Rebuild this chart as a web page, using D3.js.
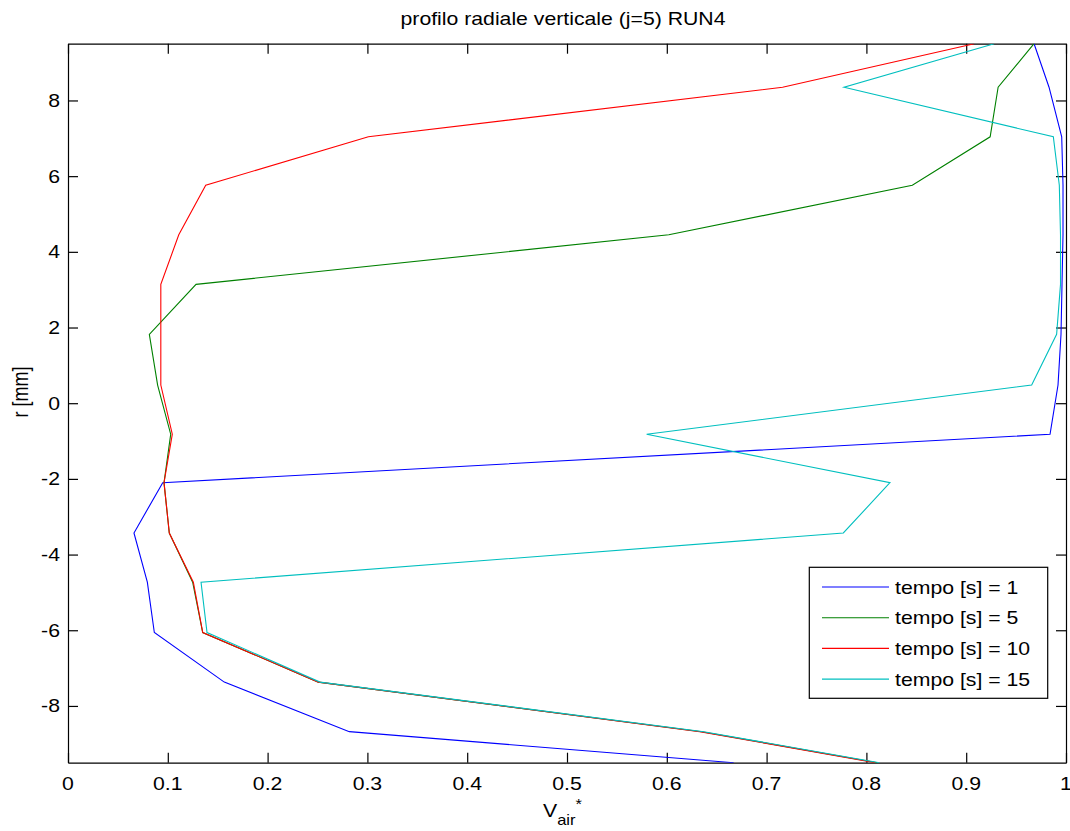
<!DOCTYPE html>
<html>
<head>
<meta charset="utf-8">
<script src="https://cdn.jsdelivr.net/npm/d3@7"></script>
<style>
  html, body { margin: 0; padding: 0; background: #fff; }
  svg { display: block; font-family: "Liberation Sans", Arial, sans-serif; }
  text { fill: #000; }
</style>
</head>
<body>
<svg id="chart" width="1070" height="831"></svg>
<script>
// ---- data ----
const radii = [9.5, 8.35, 7.04, 5.76, 4.45, 3.14, 1.82, 0.48, -0.82, -2.10, -3.43, -4.73, -6.06, -7.37, -8.68, -9.5];
const seriesLabels = ["tempo [s] = 1", "tempo [s] = 5", "tempo [s] = 10", "tempo [s] = 15"];
const seriesColors = ["#0000ff", "#008000", "#ff0000", "#00bfbf"];
const vT1  = [0.968, 0.983, 0.9957, 0.997, 0.997, 0.996, 0.995, 0.992, 0.984, 0.0949, 0.0661, 0.0795, 0.0865, 0.1566, 0.2819, 0.667];
const vT5  = [0.968, 0.932, 0.924, 0.846, 0.602, 0.1283, 0.0815, 0.0898, 0.1029, 0.0962, 0.1015, 0.1249, 0.135, 0.2508, 0.635, 0.811];
const vT10 = [0.908, 0.716, 0.301, 0.138, 0.111, 0.093, 0.093, 0.093, 0.1045, 0.0962, 0.1015, 0.1256, 0.135, 0.2508, 0.633, 0.809];
const vT15 = [0.928, 0.7776, 0.9873, 0.9933, 0.9945, 0.9945, 0.9906, 0.9656, 0.5798, 0.8236, 0.7769, 0.1333, 0.1393, 0.2525, 0.637, 0.813];
const xTicks = [0, 0.1, 0.2, 0.3, 0.4, 0.5, 0.6, 0.7, 0.8, 0.9, 1];
const yTicks = [-8, -6, -4, -2, 0, 2, 4, 6, 8];
const titleText = "profilo radiale verticale (j=5) RUN4";

// ---- layout ----
const L = 68, R = 1066, T = 43.7, B = 762.7;
const SX = 1.18; // horizontal stretch of the reference text
const FS = 18;

const svg = d3.select("#chart");
const x = d3.scaleLinear().domain([0, 1]).range([L, R]);
const y = d3.scaleLinear().domain([-9.5, 9.5]).range([B, T]);

function label(parent, px, py, txt, anchor, size, rot) {
  return parent.append("text")
    .attr("transform", `translate(${px},${py}) scale(${SX},1)` + (rot ? ` rotate(${rot})` : ""))
    .attr("text-anchor", anchor)
    .style("font-size", size + "px")
    .text(txt);
}

svg.append("rect").attr("x", L).attr("y", T).attr("width", R - L).attr("height", B - T).attr("fill", "#fff");

svg.append("defs").append("clipPath").attr("id", "clip")
  .append("rect").attr("x", L).attr("y", T).attr("width", R - L).attr("height", B - T);

// ---- axes (ticks inward, box on) ----
function styleAxis(g) {
  g.selectAll("path.domain").attr("stroke", "#000").attr("stroke-width", 1.2);
  g.selectAll(".tick line").attr("stroke", "#000").attr("stroke-width", 1.2);
  g.selectAll(".tick text").remove();
}
svg.append("g").attr("transform", `translate(0,${B})`)
  .call(d3.axisBottom(x).tickValues(xTicks).tickSizeInner(-10).tickSizeOuter(0).tickFormat(""))
  .call(styleAxis);
svg.append("g").attr("transform", `translate(0,${T})`)
  .call(d3.axisTop(x).tickValues(xTicks).tickSizeInner(-10).tickSizeOuter(0).tickFormat(""))
  .call(styleAxis);
svg.append("g").attr("transform", `translate(${L},0)`)
  .call(d3.axisLeft(y).tickValues(yTicks).tickSizeInner(-10).tickSizeOuter(0).tickFormat(""))
  .call(styleAxis);
svg.append("g").attr("transform", `translate(${R},0)`)
  .call(d3.axisRight(y).tickValues(yTicks).tickSizeInner(-10).tickSizeOuter(0).tickFormat(""))
  .call(styleAxis);

// tick labels
const fmtX = d => d === 0 ? "0" : d === 1 ? "1" : d3.format(".1f")(d);
xTicks.forEach(d => label(svg, x(d), 790, fmtX(d), "middle", FS));
yTicks.forEach(d => label(svg, 60, y(d) + 6.5, String(d), "end", FS));

// ---- series ----
const allSeries = [vT1, vT5, vT10, vT15];
const line = d3.line().x(d => x(d[0])).y(d => y(d[1]));
const plot = svg.append("g").attr("clip-path", "url(#clip)");
allSeries.forEach((vals, i) => {
  plot.append("path")
    .datum(vals.map((v, k) => [v, radii[k]]))
    .attr("fill", "none")
    .attr("stroke", seriesColors[i])
    .attr("stroke-width", 1.1)
    .attr("d", line);
});

// ---- title & axis labels ----
label(svg, 563, 25, titleText, "middle", FS);
label(svg, 28, 392, "r [mm]", "middle", FS, -90);
const xl = svg.append("text")
  .attr("transform", `translate(543,817) scale(${SX},1)`)
  .attr("text-anchor", "start")
  .style("font-size", FS + "px");
xl.append("tspan").text("V");
xl.append("tspan").attr("dy", 8).style("font-size", "14px").text("air");
xl.append("tspan").attr("dy", -16).style("font-size", "14px").text("*");

// ---- legend ----
const lg = svg.append("g");
lg.append("rect").attr("x", 809.3).attr("y", 567.3).attr("width", 238.4).attr("height", 131)
  .attr("fill", "#fff").attr("stroke", "#000").attr("stroke-width", 1.2);
seriesLabels.forEach((s, i) => {
  const ry = 587 + i * 30.7;
  lg.append("line").attr("x1", 822).attr("x2", 889).attr("y1", ry).attr("y2", ry)
    .attr("stroke", seriesColors[i]).attr("stroke-width", 1.1);
  label(lg, 895, ry + 6.5, s, "start", FS);
});
</script>
</body>
</html>
